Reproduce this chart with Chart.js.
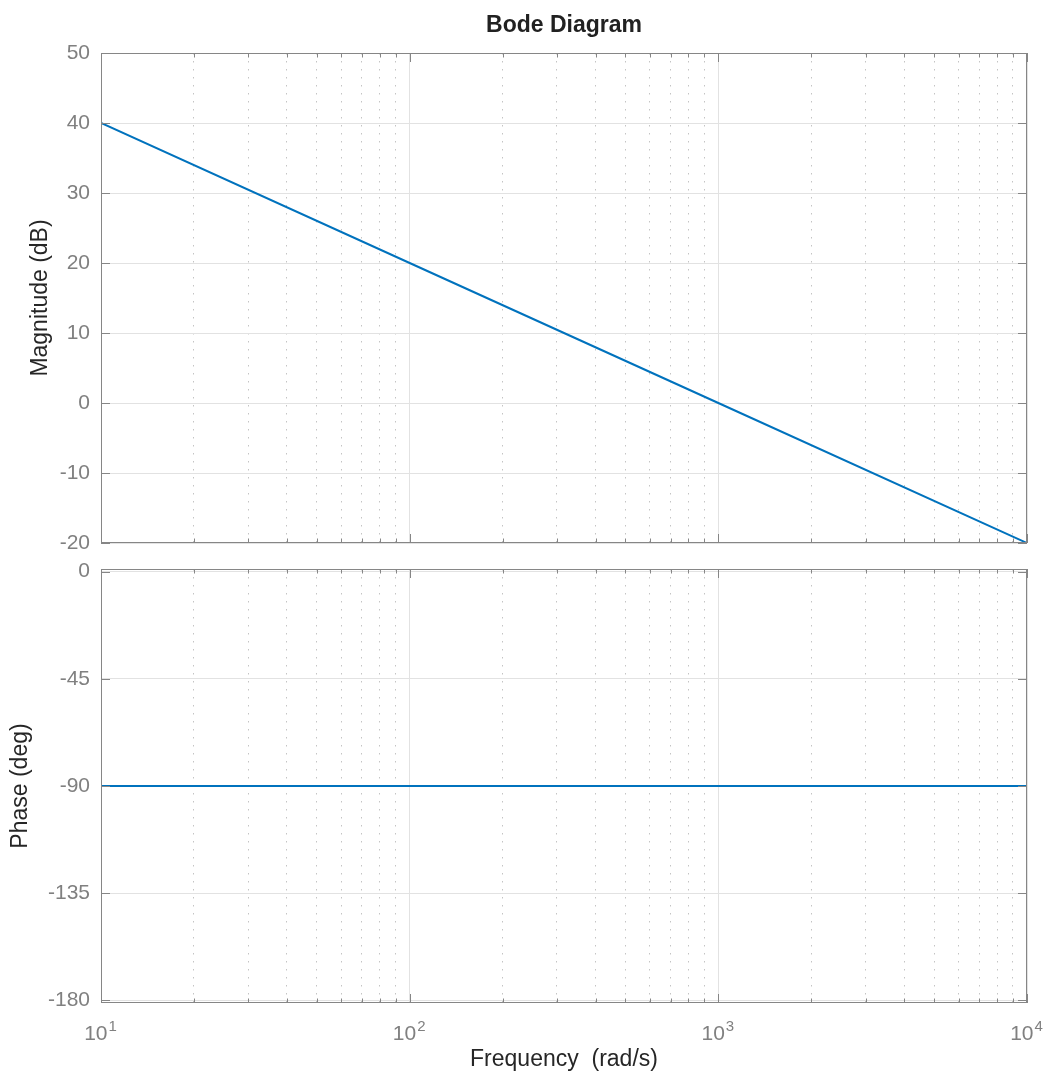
<!DOCTYPE html>
<html>
<head>
<meta charset="utf-8">
<script src="https://cdn.jsdelivr.net/npm/chart.js@4.4.0/dist/chart.umd.min.js"></script>
<style>
body { margin: 0; background: #fff; }
#wrap { position: relative; width: 1046px; height: 1072px; }
canvas { position: absolute; left: 0; top: 0; }
</style>
</head>
<body>
<div id="wrap">
  <canvas id="magChart" width="1046" height="1072"></canvas>
  <canvas id="phaseChart" width="1046" height="1072"></canvas>
</div>
<script>
// data
var freq = [10, 100, 1000, 10000];
var magnitude = [40, 20, 0, -20];
var phase = [-90, -90, -90, -90];

// tick positions and labels
var freqTicks = [10, 20, 30, 40, 50, 60, 70, 80, 90,
                 100, 200, 300, 400, 500, 600, 700, 800, 900,
                 1000, 2000, 3000, 4000, 5000, 6000, 7000, 8000, 9000, 10000];
var decadeTicks = [10, 100, 1000, 10000];
var decadeExponents = ['1', '2', '3', '4'];
var magTicks = [-20, -10, 0, 10, 20, 30, 40, 50];
var phaseTicks = [-180, -135, -90, -45, 0];

var FONT = "'Liberation Sans', Arial, Helvetica, sans-serif";
var TICK_COLOR = '#808080';
var LABEL_COLOR = '#262626';
var FRAME_COLOR = '#868686';
var LINE_COLOR = '#0072BD';

Chart.defaults.font.family = FONT;

function isDecade(v) {
    return decadeTicks.indexOf(v) >= 0;
}

// frame with inward tick marks, like the matlab axes box
var boxPlugin = {
    id: 'box',
    afterDraw: function(chart) {
        var a = chart.chartArea, ctx = chart.ctx;
        var xs = chart.scales.x, ys = chart.scales.y;
        ctx.save();
        ctx.strokeStyle = FRAME_COLOR;
        ctx.lineWidth = 1;
        ctx.beginPath();
        freqTicks.forEach(function(v) {
            var px = Math.round(xs.getPixelForValue(v)) + 0.5;
            var len = isDecade(v) ? 9 : 4.5;
            ctx.moveTo(px, a.bottom); ctx.lineTo(px, a.bottom - len);
            ctx.moveTo(px, a.top); ctx.lineTo(px, a.top + len);
        });
        ys.ticks.forEach(function(t) {
            var py = Math.round(ys.getPixelForValue(t.value)) + 0.5;
            ctx.moveTo(a.left, py); ctx.lineTo(a.left + 9, py);
            ctx.moveTo(a.right, py); ctx.lineTo(a.right - 9, py);
        });
        ctx.stroke();
        ctx.strokeRect(a.left + 0.5, a.top + 0.5, a.right - a.left - 1, a.bottom - a.top - 1);
        ctx.restore();
    }
};

// 10^n labels with a real raised exponent
var decadeLabelPlugin = {
    id: 'decadeLabels',
    afterDraw: function(chart) {
        var ctx = chart.ctx, xs = chart.scales.x, a = chart.chartArea;
        ctx.save();
        ctx.fillStyle = TICK_COLOR;
        ctx.textBaseline = 'alphabetic';
        ctx.textAlign = 'left';
        decadeTicks.forEach(function(v, i) {
            var px = xs.getPixelForValue(v);
            ctx.font = '21px ' + FONT;
            var wBase = ctx.measureText('10').width;
            ctx.font = '15px ' + FONT;
            var wExp = ctx.measureText(decadeExponents[i]).width;
            var x0 = px - (wBase + wExp) / 2 - 1;
            ctx.font = '21px ' + FONT;
            ctx.fillText('10', x0, a.bottom + 37);
            ctx.font = '15px ' + FONT;
            ctx.fillText(decadeExponents[i], x0 + wBase + 1, a.bottom + 28);
        });
        ctx.restore();
    }
};

function freqAxis(showTitle) {
    return {
        type: 'logarithmic',
        position: 'bottom',
        min: 10,
        max: 10000,
        afterBuildTicks: function(s) {
            s.ticks = freqTicks.map(function(v) { return { value: v }; });
        },
        grid: {
            drawTicks: false,
            color: function(c) { return c.tick && isDecade(c.tick.value) ? '#e2e2e2' : '#c4c4c4'; }
        },
        border: {
            display: false,
            dash: function(c) { return c.tick && isDecade(c.tick.value) ? [] : [1.5, 6.5]; }
        },
        ticks: { display: false },
        title: {
            display: showTitle,
            text: 'Frequency  (rad/s)',
            color: LABEL_COLOR,
            font: { size: 23 },
            padding: { top: 0, bottom: -1 }
        },
        afterFit: function(s) {
            s.height = showTitle ? 69 : 0;
            s.paddingLeft = 0;
            s.paddingRight = 0;
        }
    };
}

function valueAxis(min, max, ticks, label, titlePad) {
    return {
        type: 'linear',
        min: min,
        max: max,
        afterBuildTicks: function(s) {
            s.ticks = ticks.map(function(v) { return { value: v }; });
        },
        grid: { drawTicks: false, color: '#e2e2e2' },
        border: { display: false },
        ticks: { color: TICK_COLOR, font: { size: 21 }, padding: 11 },
        title: {
            display: true,
            text: label,
            color: LABEL_COLOR,
            font: { size: 23 },
            padding: { top: titlePad, bottom: 0 }
        },
        afterFit: function(s) { s.width = 101; }
    };
}

function points(ys) {
    return freq.map(function(f, i) { return { x: f, y: ys[i] }; });
}

var magChart = new Chart(document.getElementById('magChart'), {
    type: 'line',
    data: {
        datasets: [{
            data: points(magnitude),
            borderColor: LINE_COLOR,
            borderWidth: 2,
            pointRadius: 0,
            tension: 0
        }]
    },
    options: {
        responsive: false,
        animation: false,
        layout: { padding: { top: 0, left: 0, right: 19, bottom: 529 } },
        plugins: { legend: { display: false }, tooltip: { enabled: false } },
        scales: {
            x: freqAxis(false),
            xTop: {
                type: 'logarithmic',
                position: 'top',
                min: 10,
                max: 10000,
                grid: { display: false },
                border: { display: false },
                ticks: { display: false },
                title: {
                    display: true,
                    text: 'Bode Diagram',
                    color: '#212121',
                    font: { size: 23, weight: 'bold' },
                    padding: { top: 12, bottom: 0 }
                },
                afterFit: function(s) { s.height = 53; }
            },
            y: valueAxis(-20, 50, magTicks, 'Magnitude (dB)', 27)
        }
    },
    plugins: [boxPlugin]
});

var phaseChart = new Chart(document.getElementById('phaseChart'), {
    type: 'line',
    data: {
        datasets: [{
            data: points(phase),
            borderColor: LINE_COLOR,
            borderWidth: 2,
            pointRadius: 0,
            tension: 0
        }]
    },
    options: {
        responsive: false,
        animation: false,
        layout: { padding: { top: 569, left: 0, right: 19, bottom: 0 } },
        plugins: { legend: { display: false }, tooltip: { enabled: false } },
        scales: {
            x: freqAxis(true),
            y: valueAxis(-181.1, 1.1, phaseTicks, 'Phase (deg)', 7)
        }
    },
    plugins: [boxPlugin, decadeLabelPlugin]
});
</script>
</body>
</html>
